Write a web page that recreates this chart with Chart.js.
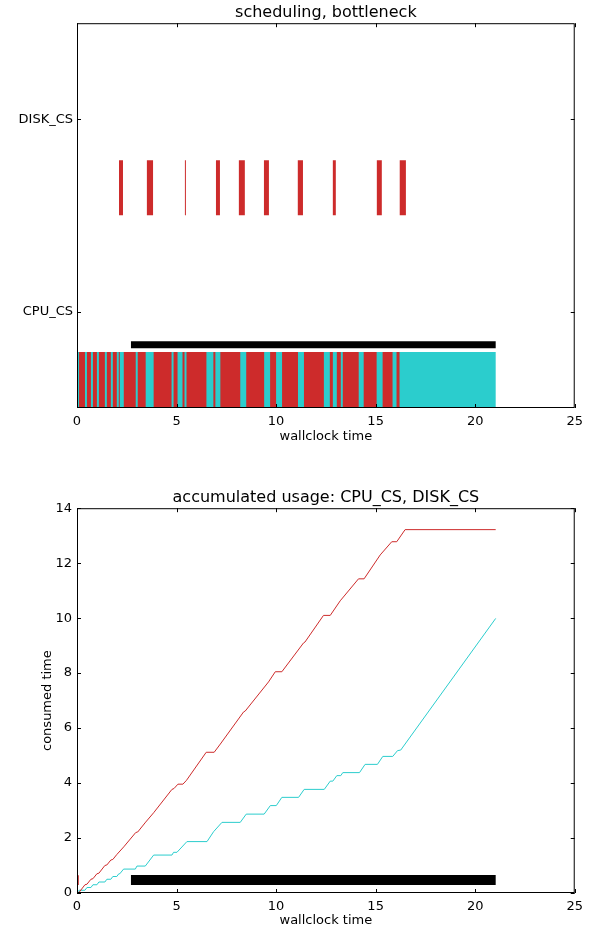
<!DOCTYPE html>
<html>
<head>
<meta charset="utf-8">
<script src="https://cdn.jsdelivr.net/npm/chart.js@4.4.0/dist/chart.umd.min.js"></script>
<style>
  body { margin: 0; background: #fff; }
  canvas { display: block; }
</style>
</head>
<body>
<canvas id="sched" width="589" height="465"></canvas>
<canvas id="usage" width="589" height="466"></canvas>
<script>
// scheduling chart data
const rowNames = ['CPU_CS', 'DISK_CS'];
const xTicks = [0, 5, 10, 15, 20, 25];
const cpuCyanSpans = [[0, 21.03]];
const cpuRedSpans = [[0.1, 0.4], [0.5, 0.7], [0.8, 1.0], [1.1, 1.4], [1.5, 1.7], [1.8, 2.0], [2.1, 2.15],
  [2.35, 2.95], [3.05, 3.45], [3.85, 4.75], [4.85, 5.05], [5.3, 5.4], [5.5, 6.5], [6.85, 6.95],
  [7.2, 8.2], [8.5, 9.4], [9.7, 10.0], [10.3, 11.1], [11.4, 12.4], [12.7, 12.85], [13.05, 13.25],
  [13.35, 14.15], [14.4, 15.05], [15.35, 15.85], [16.05, 16.2]];
const diskRedSpans = [[2.11, 2.31], [3.51, 3.82], [5.42, 5.47], [6.98, 7.18], [8.13, 8.43],
  [9.39, 9.64], [11.09, 11.35], [12.85, 13.0], [15.06, 15.31], [16.21, 16.52]];
const bottleneckSpan = [2.71, 21.03];
const cpuRowY = 0.645, diskRowY = 1.645, bottleneckY = 0.829;

// accumulated usage data
const usageYTicks = [0, 2, 4, 6, 8, 10, 12, 14];
const redT = [0, 0.1, 0.4, 0.5, 0.7, 0.8, 1.0, 1.1, 1.4, 1.5, 1.7, 1.8, 2.0, 2.35, 2.95, 3.05, 3.45, 3.85,
  4.77, 4.87, 5.07, 5.32, 5.5, 6.49, 6.89, 7.2, 8.37, 8.45, 9.62, 9.96, 10.29, 11.38, 11.45, 12.38,
  12.72, 13.22, 14.14, 14.42, 15.23, 15.81, 16.06, 16.48, 21.03];
const redV = [0, 0.02, 0.3, 0.32, 0.5, 0.52, 0.7, 0.72, 1.0, 1.02, 1.2, 1.22, 1.4, 1.68, 2.2, 2.22, 2.58, 2.92,
  3.77, 3.8, 3.96, 3.96, 4.1, 5.12, 5.12, 5.42, 6.59, 6.62, 7.68, 8.05, 8.05, 9.1, 9.13, 10.1,
  10.1, 10.63, 11.43, 11.43, 12.3, 12.78, 12.78, 13.22, 13.22];
const cyanT = [0, 0.1, 0.4, 0.5, 0.7, 0.8, 1.0, 1.1, 1.4, 1.5, 1.7, 1.8, 2.0, 2.1, 2.15, 2.34, 2.93, 3.01,
  3.43, 3.85, 4.77, 4.85, 5.02, 5.52, 6.53, 6.86, 7.28, 8.2, 8.5, 9.4, 9.71, 10.01, 10.29, 11.13,
  11.41, 12.42, 12.72, 12.85, 13.05, 13.25, 13.35, 14.19, 14.47, 15.09, 15.36, 15.86, 16.1, 16.26, 21.03];
const cyanV = [0, 0.1, 0.1, 0.2, 0.2, 0.3, 0.3, 0.4, 0.4, 0.5, 0.5, 0.6, 0.6, 0.7, 0.7, 0.87, 0.87, 0.98,
  0.98, 1.38, 1.38, 1.48, 1.48, 1.87, 1.87, 2.23, 2.57, 2.57, 2.87, 2.87, 3.18, 3.18, 3.48, 3.48,
  3.77, 3.77, 4.07, 4.07, 4.27, 4.27, 4.38, 4.38, 4.68, 4.68, 4.97, 4.97, 5.18, 5.2, 9.99];
const usageBottleneck = { t: [2.71, 21.03], v: 0.47 };
const usageMarker = { t: 0.04, v: [0.29, 0.65] };

const RED = 'rgb(205,43,43)';
const CYAN = 'rgb(43,205,205)';

Chart.defaults.font.family = 'DejaVu Sans';
Chart.defaults.font.size = 13;
Chart.defaults.color = '#000';

// matplotlib style box with inward ticks
const frame = {
  id: 'frame',
  afterDatasetsDraw(chart) {
    const { ctx, chartArea: a, scales } = chart;
    ctx.save();
    ctx.strokeStyle = '#000';
    ctx.lineWidth = 1;
    ctx.strokeRect(a.left + 0.5, a.top + 0.5, a.right - a.left - 1, a.bottom - a.top - 1);
    ctx.beginPath();
    scales.x.ticks.forEach(t => {
      const px = Math.round(scales.x.getPixelForValue(t.value)) + 0.5;
      ctx.moveTo(px, a.bottom); ctx.lineTo(px, a.bottom - 4);
      ctx.moveTo(px, a.top); ctx.lineTo(px, a.top + 4);
    });
    scales.y.ticks.forEach(t => {
      const py = Math.round(scales.y.getPixelForValue(t.value)) + 0.5;
      ctx.moveTo(a.left, py); ctx.lineTo(a.left + 4, py);
      ctx.moveTo(a.right, py); ctx.lineTo(a.right - 4, py);
    });
    ctx.stroke();
    ctx.restore();
  }
};

function spanBars(spans, y) {
  return spans.map(s => ({ x: s, y: y }));
}

// first dataset is painted last, so the cyan background goes at the end
new Chart(document.getElementById('sched'), {
  type: 'bar',
  data: {
    datasets: [
      { data: spanBars([bottleneckSpan], bottleneckY), backgroundColor: '#000', barThickness: 7 },
      { data: spanBars(diskRedSpans, diskRowY), backgroundColor: RED, barThickness: 55 },
      { data: spanBars(cpuRedSpans, cpuRowY), backgroundColor: RED, barThickness: 56 },
      { data: spanBars(cpuCyanSpans, cpuRowY), backgroundColor: CYAN, barThickness: 56 }
    ]
  },
  options: {
    responsive: false,
    animation: false,
    indexAxis: 'y',
    datasets: { bar: { grouped: false, borderWidth: 0, inflateAmount: 0 } },
    layout: { padding: { top: 3, right: 14, bottom: 0, left: 0 } },
    plugins: {
      legend: { display: false },
      tooltip: { enabled: false },
      title: { display: true, fullSize: false, text: 'scheduling, bottleneck', font: { size: 16, weight: 'normal' }, padding: { top: 0, bottom: 1 } }
    },
    scales: {
      x: {
        type: 'linear', min: 0, max: 25,
        afterBuildTicks: s => { s.ticks = xTicks.map(v => ({ value: v })); },
        afterFit: s => { s.height = 57; },
        grid: { display: false, drawTicks: false },
        border: { display: false },
        ticks: { padding: 6 },
        title: { display: true, text: 'wallclock time', padding: { top: 0, bottom: 21 } }
      },
      y: {
        type: 'linear', min: 0.5, max: 2.5, offset: false,
        afterBuildTicks: s => { s.ticks = [{ value: 1 }, { value: 2 }]; },
        afterFit: s => { s.width = 77; },
        grid: { display: false, drawTicks: false, offset: false },
        border: { display: false },
        ticks: { padding: 4, callback: v => rowNames[v - 1] }
      }
    }
  },
  plugins: [frame]
});

function pts(ts, vs) {
  return ts.map((t, i) => ({ x: t, y: vs[i] }));
}

new Chart(document.getElementById('usage'), {
  type: 'line',
  data: {
    datasets: [
      { data: pts(usageMarker.t === undefined ? [] : [usageMarker.t, usageMarker.t], usageMarker.v), borderColor: RED, borderWidth: 2 },
      { data: pts(usageBottleneck.t, [usageBottleneck.v, usageBottleneck.v]), borderColor: '#000', borderWidth: 10 },
      { data: pts(redT, redV), borderColor: RED, borderWidth: 1 },
      { data: pts(cyanT, cyanV), borderColor: CYAN, borderWidth: 1 }
    ]
  },
  options: {
    responsive: false,
    animation: false,
    elements: { point: { radius: 0 }, line: { tension: 0, borderCapStyle: 'butt' } },
    layout: { padding: { top: 23, right: 14, bottom: 0, left: 0 } },
    plugins: {
      legend: { display: false },
      tooltip: { enabled: false },
      title: { display: true, fullSize: false, text: 'accumulated usage: CPU_CS, DISK_CS', font: { size: 16, weight: 'normal' }, padding: { top: 0, bottom: 1 } }
    },
    scales: {
      x: {
        type: 'linear', min: 0, max: 25,
        afterBuildTicks: s => { s.ticks = xTicks.map(v => ({ value: v })); },
        afterFit: s => { s.height = 38; },
        grid: { display: false, drawTicks: false },
        border: { display: false },
        ticks: { padding: 6 },
        title: { display: true, text: 'wallclock time', padding: { top: 0, bottom: 3 } }
      },
      y: {
        type: 'linear', min: 0, max: 14,
        afterBuildTicks: s => { s.ticks = usageYTicks.map(v => ({ value: v })); },
        afterFit: s => { s.width = 77; },
        grid: { display: false, drawTicks: false },
        border: { display: false },
        ticks: { padding: 5 },
        title: { display: true, text: 'consumed time', padding: { top: 40, bottom: 0 } }
      }
    }
  },
  plugins: [frame]
});
</script>
</body>
</html>
